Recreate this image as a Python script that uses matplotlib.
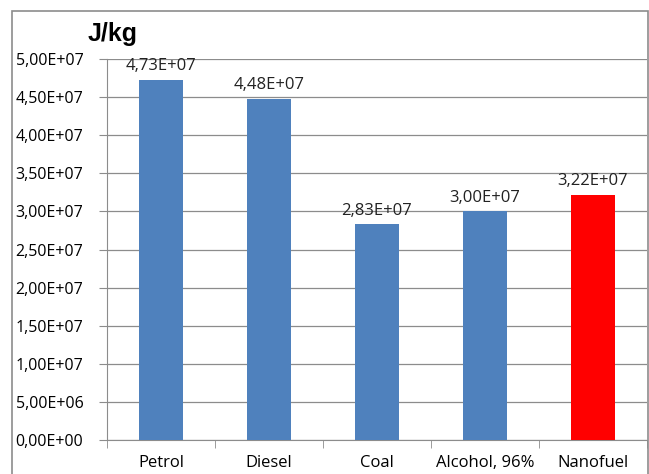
import matplotlib
matplotlib.use('Agg')
import matplotlib.pyplot as plt
from matplotlib.patches import Rectangle
from matplotlib.ticker import FuncFormatter
import numpy as np

fuels = ['Petrol', 'Diesel', 'Coal', 'Alcohol, 96%', 'Nanofuel']
energy = [4.73e7, 4.48e7, 2.83e7, 3.00e7, 3.22e7]
colors = ['#4F81BD', '#4F81BD', '#4F81BD', '#4F81BD', '#FF0000']

plt.rcParams['font.family'] = ['Open Sans', 'DejaVu Sans']

def sci_comma(v, pos=None):
    s = '%.2E' % v
    return s.replace('.', ',')

fig = plt.figure(figsize=(6.49, 4.74), dpi=100)
ax = fig.add_axes([107/649, 34/474, 540/649, 381/474])

x = np.arange(len(fuels))
ax.bar(x, energy, width=0.4, color=colors, zorder=3)
for xi, v in zip(x, energy):
    ax.text(xi, v + 0.07e7, sci_comma(v), ha='center', va='bottom', fontsize=12, color='#222222')

ax.set_xlim(-0.5, len(fuels) - 0.5)
ax.set_ylim(0, 5e7)
ax.set_yticks(np.arange(0, 5.01e7, 0.5e7))
ax.yaxis.set_major_formatter(FuncFormatter(sci_comma))
ax.grid(axis='y', color='#8c8c8c', linewidth=0.9, zorder=0)

ax.set_xticks(x)
ax.set_xticklabels(fuels)
ax.set_xticks(np.arange(-0.5, len(fuels), 1), minor=True)
ax.tick_params(axis='x', which='major', length=0, pad=11, labelsize=12)
ax.tick_params(axis='x', which='minor', length=6, color='#8c8c8c')
ax.tick_params(axis='y', length=6, color='#8c8c8c', labelsize=11.5, pad=11)

for side in ['top', 'right']:
    ax.spines[side].set_visible(False)
for side in ['left', 'bottom']:
    ax.spines[side].set_color('#8c8c8c')

fig.text(113/649, 1 - 34/474, 'J/kg', family='Liberation Sans', weight='bold',
         fontsize=18, ha='center', va='center')

# outer chart frame
fig.patches.append(Rectangle((12/649, -0.05), 636/649, 1.05 - 11/474,
                             transform=fig.transFigure, fill=False,
                             edgecolor='#8c8c8c', linewidth=1.2))

fig.savefig('out.png', dpi=100)
